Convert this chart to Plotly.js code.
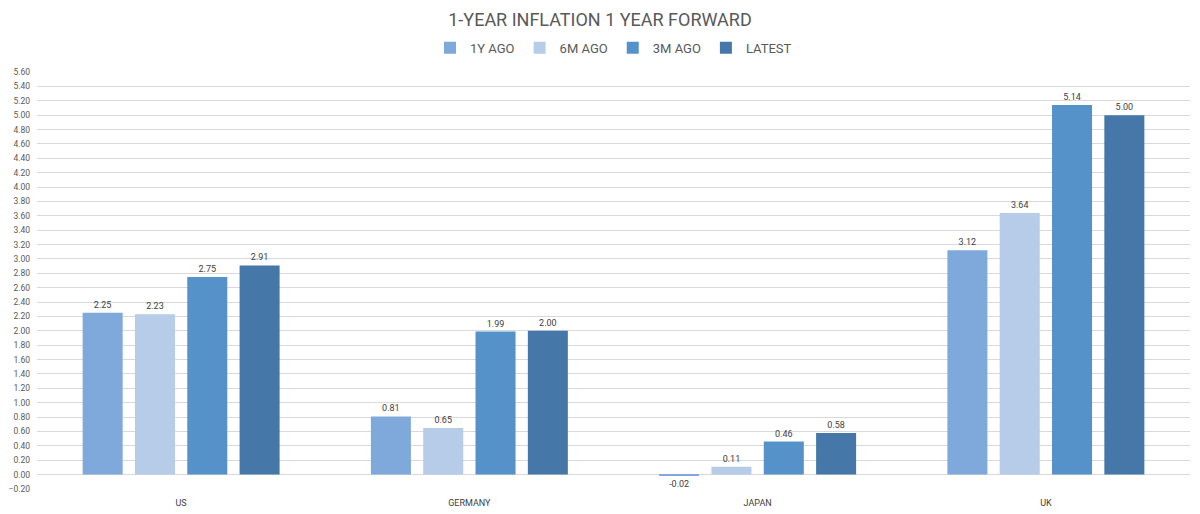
<!DOCTYPE html>
<html>
<head>
<meta charset="utf-8">
<script src="https://cdn.plot.ly/plotly-3.0.1.min.js"></script>
<style>
  html, body { margin: 0; padding: 0; background: #fff; }
  #chart { width: 1200px; height: 514px; }
</style>
</head>
<body>
<div id="chart"></div>
<script>
  // ── data ────────────────────────────────────────────────────────────────────
  const countries = ['US', 'GERMANY', 'JAPAN', 'UK'];
  const seriesNames = ['1Y AGO', '6M AGO', '3M AGO', 'LATEST'];
  const oneYearAgo = [2.25, 0.81, -0.02, 3.12];
  const sixMonthsAgo = [2.23, 0.65, 0.11, 3.64];
  const threeMonthsAgo = [2.75, 1.99, 0.46, 5.14];
  const latest = [2.91, 2.00, 0.58, 5.00];

  const colors = ['#7fa9da', '#b6cce8', '#5592c9', '#4578a8'];
  const font = 'Roboto, "DejaVu Sans", sans-serif';

  const traces = [oneYearAgo, sixMonthsAgo, threeMonthsAgo, latest].map(function (vals, i) {
    return {
      type: 'bar',
      name: seriesNames[i],
      x: countries,
      y: vals,
      marker: { color: colors[i] },
      text: vals.map(function (v) { return v.toFixed(2); }),
      textposition: 'outside',
      textfont: { size: 9, color: '#404040', family: font },
      cliponaxis: false,
      hoverinfo: 'x+y+name',
    };
  });

  const layout = {
    width: 1200,
    height: 514,
    paper_bgcolor: '#fff',
    plot_bgcolor: '#fff',
    font: { family: font, color: '#595959' },
    margin: { t: 72, r: 10, b: 25, l: 37 },
    title: {
      text: '1-YEAR INFLATION 1 YEAR FORWARD',
      font: { size: 18, color: '#595959', family: font },
      x: 0.5, xanchor: 'center',
      y: 0.962, yanchor: 'middle',
    },
    showlegend: true,
    legend: {
      orientation: 'h',
      x: 0.5, xanchor: 'center',
      y: 1.058, yanchor: 'middle',
      font: { size: 13, color: '#595959' },
      itemwidth: 30,
      traceorder: 'normal',
    },
    barmode: 'group',
    bargap: 0.274,
    bargroupgap: 0.235,
    xaxis: {
      type: 'category',
      tickfont: { size: 9, color: '#404040' },
      showgrid: false,
      showline: false,
      ticks: '',
      ticklabelstandoff: 7,
    },
    yaxis: {
      range: [-0.2, 5.6],
      dtick: 0.2,
      tick0: 0,
      tickformat: '.2f',
      tickfont: { size: 8.5, color: '#595959' },
      gridcolor: '#d9d9d9',
      zeroline: false,
      showline: false,
      ticklabelstandoff: 6,
    },
  };

  Plotly.newPlot('chart', traces, layout, { displayModeBar: false, responsive: false });
</script>
</body>
</html>
